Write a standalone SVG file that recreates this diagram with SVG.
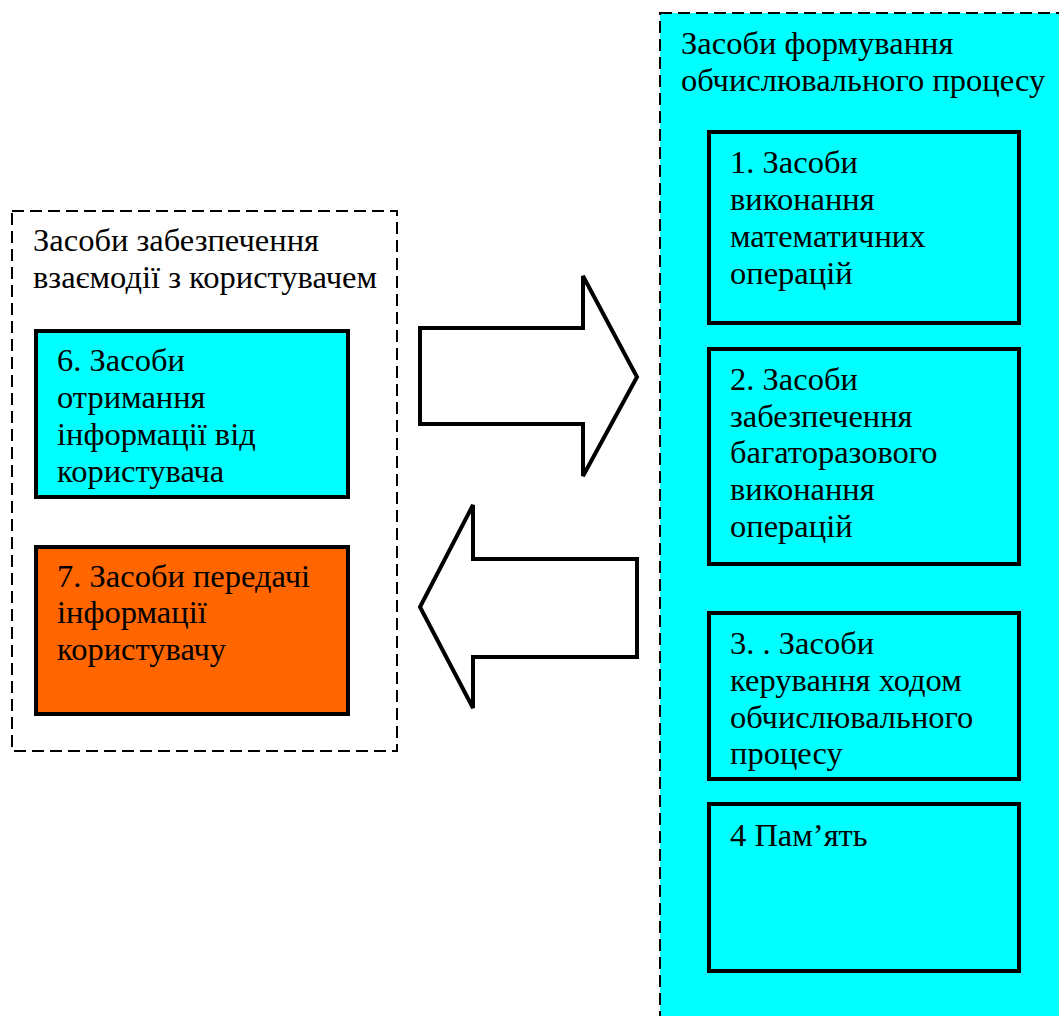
<svg xmlns="http://www.w3.org/2000/svg" width="1059" height="1016" viewBox="0 0 1059 1016">
<style>
.t{font-family:"Liberation Serif","Times New Roman","DejaVu Serif",serif;font-size:32.5px;fill:#000}
.dash{stroke:#000;stroke-width:2;stroke-dasharray:12,6}
.box{stroke:#000;stroke-width:4}
.arr{fill:#fff;stroke:#000;stroke-width:4;stroke-linejoin:miter}
</style>
<rect width="1059" height="1016" fill="#fff"/>
<g id="group-left">
<rect x="12" y="211" width="385" height="540" fill="#fff" class="dash"/>
<text class="t" x="33" y="251">Засоби забезпечення</text>
<text class="t" x="33" y="288">взаємодії з користувачем</text>
</g>
<g id="node6">
<rect x="36" y="331" width="312" height="166" fill="#00ffff" class="box"/>
<text class="t" x="57" y="371">6. Засоби</text>
<text class="t" x="57" y="408">отримання</text>
<text class="t" x="57" y="445">інформації від</text>
<text class="t" x="57" y="482">користувача</text>
</g>
<g id="node7">
<rect x="36" y="547" width="312" height="167" fill="#ff6600" class="box"/>
<text class="t" x="57" y="587">7. Засоби передачі</text>
<text class="t" x="57" y="623">інформації</text>
<text class="t" x="57" y="660">користувачу</text>
</g>
<g id="group-right">
<rect x="660" y="13" width="420" height="1030" fill="#00ffff" class="dash"/>
<text class="t" x="681" y="54">Засоби формування</text>
<text class="t" x="681" y="91">обчислювального процесу</text>
</g>
<g id="node1">
<rect x="709" y="132" width="310" height="191" fill="#00ffff" class="box"/>
<text class="t" x="730" y="173">1. Засоби</text>
<text class="t" x="730" y="210">виконання</text>
<text class="t" x="730" y="247">математичних</text>
<text class="t" x="730" y="284">операцій</text>
</g>
<g id="node2">
<rect x="709" y="349" width="310" height="215" fill="#00ffff" class="box"/>
<text class="t" x="730" y="390">2. Засоби</text>
<text class="t" x="730" y="427">забезпечення</text>
<text class="t" x="730" y="463">багаторазового</text>
<text class="t" x="730" y="500">виконання</text>
<text class="t" x="730" y="537">операцій</text>
</g>
<g id="node3">
<rect x="709" y="613" width="310" height="166" fill="#00ffff" class="box"/>
<text class="t" x="730" y="654">3. . Засоби</text>
<text class="t" x="730" y="691">керування ходом</text>
<text class="t" x="730" y="728">обчислювального</text>
<text class="t" x="730" y="764">процесу</text>
</g>
<g id="node4">
<rect x="709" y="804" width="310" height="167" fill="#00ffff" class="box"/>
<text class="t" x="730" y="846">4 Пам’ять</text>
</g>
<g id="connectors">
<polygon class="arr" points="420,328 583,328 583,276 637,377 583,476 583,424 420,424"/>
<polygon class="arr" points="637,559 473,559 473,505 420,607 473,708 473,657 637,657"/>
</g>
</svg>
